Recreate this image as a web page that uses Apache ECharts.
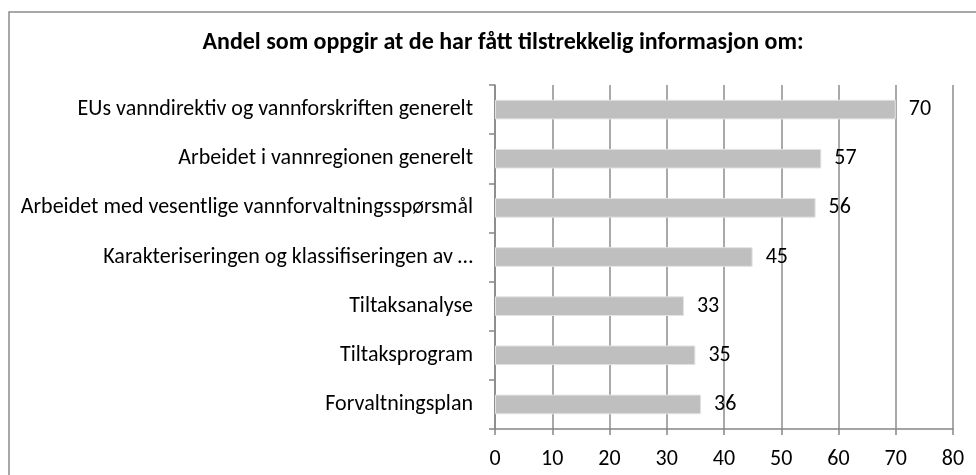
<!DOCTYPE html>
<html>
<head>
<meta charset="utf-8">
<script src="https://cdn.jsdelivr.net/npm/echarts@6/dist/echarts.min.js"></script>
<style>
  html, body { margin: 0; padding: 0; background: #fff; }
  #chart { width: 976px; height: 475px; }
</style>
</head>
<body>
<div id="chart"></div>
<script>
// data (top to bottom)
const categories = [
  "EUs vanndirektiv og vannforskriften generelt",
  "Arbeidet i vannregionen generelt",
  "Arbeidet med vesentlige vannforvaltningsspørsmål",
  "Karakteriseringen og klassifiseringen av …",
  "Tiltaksanalyse",
  "Tiltaksprogram",
  "Forvaltningsplan",
];
const values = [70, 57, 56, 45, 33, 35, 36];
const titleText = "Andel som oppgir at de har fått tilstrekkelig informasjon om:";

const font = "Carlito, Calibri, Lato, sans-serif";

const chart = echarts.init(document.getElementById("chart"));
chart.setOption({
  animation: false,
  textStyle: { fontFamily: font },
  title: {
    text: titleText,
    left: 498,
    textAlign: "center",
    top: 26,
    textStyle: { fontFamily: font, fontSize: 24, fontWeight: "bold", color: "#000" },
  },
  graphic: [
    {
      type: "rect",
      shape: { x: 9, y: 12, width: 1000, height: 500 },
      style: { fill: "none", stroke: "#8c8c8c", lineWidth: 1.5 },
      silent: true,
    },
  ],
  grid: { left: 495, right: 23, top: 85, bottom: 46 },
  xAxis: {
    type: "value",
    min: 0,
    max: 80,
    interval: 10,
    axisLine: { show: true, lineStyle: { color: "#868686", width: 1.5 } },
    axisTick: { show: true, length: 6, lineStyle: { color: "#868686", width: 1.5 } },
    axisLabel: { color: "#000", fontSize: 22, margin: 19, fontFamily: font },
    splitLine: { show: true, lineStyle: { color: "#8c8c8c", width: 1.5 } },
  },
  yAxis: {
    type: "category",
    data: categories,
    inverse: true,
    axisLine: { show: true, lineStyle: { color: "#868686", width: 1.5 } },
    axisTick: { show: true, length: 6, lineStyle: { color: "#868686", width: 1.5 } },
    axisLabel: { color: "#000", fontSize: 22, margin: 22, fontFamily: font },
  },
  series: [
    {
      type: "bar",
      data: values,
      barWidth: "40%",
      itemStyle: { color: "#bfbfbf", borderColor: "#e3e3e3", borderWidth: 1 },
      label: {
        show: true,
        position: "right",
        distance: 13,
        color: "#000",
        fontSize: 22,
        fontFamily: font,
      },
    },
  ],
});
</script>
</body>
</html>
